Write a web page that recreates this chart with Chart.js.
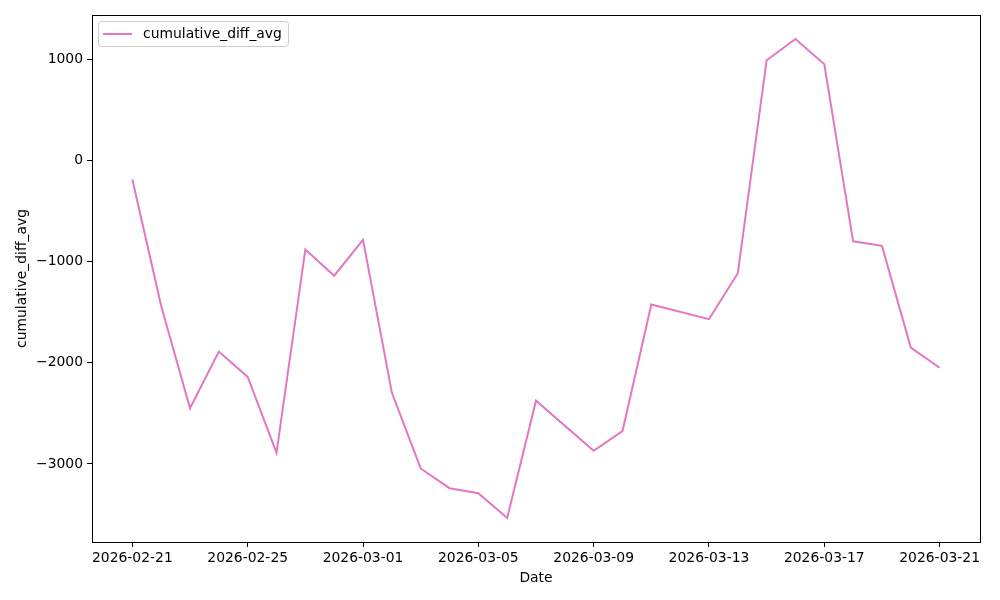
<!DOCTYPE html>
<html>
<head>
<meta charset="utf-8">
<script src="https://cdn.jsdelivr.net/npm/chart.js@4"></script>
<style>
  html, body { margin: 0; padding: 0; background: #fff; }
  canvas { display: block; }
</style>
</head>
<body>
<canvas id="chart" width="1000" height="600"></canvas>
<script>
// ── Data ─────────────────────────────────────────────────────────────
const DATES = [
  '2026-02-21', '2026-02-22', '2026-02-23', '2026-02-24', '2026-02-25',
  '2026-02-26', '2026-02-27', '2026-02-28', '2026-03-01', '2026-03-02',
  '2026-03-03', '2026-03-04', '2026-03-05', '2026-03-06', '2026-03-07',
  '2026-03-09', '2026-03-10', '2026-03-11', '2026-03-13', '2026-03-14',
  '2026-03-15', '2026-03-16', '2026-03-17', '2026-03-18', '2026-03-19',
  '2026-03-20', '2026-03-21'
];
const CUM_DIFF_AVG = [
  -190, -1440, -2450, -1890, -2140,
  -2890, -880, -1140, -785, -2295,
  -3045, -3240, -3290, -3535, -2375,
  -2870, -2675, -1425, -1570, -1115,
  990, 1200, 950, -800, -845,
  -1850, -2050
];
const X_TICKS = ['2026-02-21', '2026-02-25', '2026-03-01', '2026-03-05',
                 '2026-03-09', '2026-03-13', '2026-03-17', '2026-03-21'];
const Y_TICKS = [-3000, -2000, -1000, 0, 1000];

const SERIES_LABEL = 'cumulative_diff_avg';
const LINE_COLOR = '#e377c2';
const FONT = 'DejaVu Sans';
const FONT_SIZE = 13.9;

// days since first date, so the x scale stays linear like a date axis
const DAY = 86400000;
const base = Date.parse(DATES[0] + 'T00:00:00Z');
const toDay = d => (Date.parse(d + 'T00:00:00Z') - base) / DAY;
const fromDay = n => new Date(base + n * DAY).toISOString().slice(0, 10);

const points = DATES.map((d, i) => ({ x: toDay(d), y: CUM_DIFF_AVG[i] }));

// matplotlib-like 5% margins
const xs = points.map(p => p.x), ys = points.map(p => p.y);
const xPad = (Math.max(...xs) - Math.min(...xs)) * 0.05;
const yPad = (Math.max(...ys) - Math.min(...ys)) * 0.05;

// ── Plugins ──────────────────────────────────────────────────────────
const frame = {
  id: 'frame',
  afterDatasetsDraw(chart) {
    const { ctx, chartArea: a } = chart;
    ctx.save();
    ctx.strokeStyle = '#000';
    ctx.lineWidth = 1;
    ctx.strokeRect(a.left + 0.5, a.top + 0.5, a.right - a.left, a.bottom - a.top);
    ctx.restore();
  }
};

const boxLegend = {
  id: 'boxLegend',
  afterDraw(chart) {
    const { ctx, chartArea: a } = chart;
    const ds = chart.data.datasets[0];
    const x = a.left + 6, y = a.top + 6, w = 190, h = 25, r = 3;
    ctx.save();
    ctx.beginPath();
    ctx.roundRect(x + 0.5, y + 0.5, w, h, r);
    ctx.fillStyle = 'rgba(255,255,255,0.8)';
    ctx.fill();
    ctx.strokeStyle = '#cccccc';
    ctx.lineWidth = 1;
    ctx.stroke();

    ctx.beginPath();
    ctx.moveTo(x + 5, y + h / 2 + 0.5);
    ctx.lineTo(x + 34, y + h / 2 + 0.5);
    ctx.strokeStyle = ds.borderColor;
    ctx.lineWidth = 2;
    ctx.stroke();

    ctx.fillStyle = '#000';
    ctx.font = `${FONT_SIZE}px "${FONT}"`;
    ctx.textBaseline = 'middle';
    ctx.fillText(ds.label, x + 45, y + h / 2 + 1);
    ctx.restore();
  }
};

// ── Chart ────────────────────────────────────────────────────────────
const tickFont = { family: FONT, size: FONT_SIZE };
const minus = v => (v < 0 ? '\u2212' + Math.abs(v) : String(v));

new Chart(document.getElementById('chart').getContext('2d'), {
  type: 'line',
  data: {
    datasets: [{
      label: SERIES_LABEL,
      data: points,
      borderColor: LINE_COLOR,
      backgroundColor: LINE_COLOR,
      borderWidth: 2,
      pointRadius: 0,
      tension: 0,
      fill: false
    }]
  },
  options: {
    responsive: false,
    animation: false,
    layout: { padding: { left: 0, top: 15, right: 20, bottom: 0 } },
    plugins: {
      legend: { display: false },
      tooltip: { enabled: false }
    },
    scales: {
      x: {
        type: 'linear',
        min: Math.min(...xs) - xPad,
        max: Math.max(...xs) + xPad,
        afterBuildTicks: s => { s.ticks = X_TICKS.map(d => ({ value: toDay(d) })); },
        afterFit: s => { s.height = 58; },
        border: { display: false },
        grid: { drawOnChartArea: false, drawTicks: true, tickLength: 5, tickColor: '#000', tickWidth: 1 },
        ticks: {
          color: '#000', font: tickFont, padding: 3,
          maxRotation: 0, autoSkip: false,
          callback: v => fromDay(v)
        },
        title: {
          display: true, text: 'Date', color: '#000', font: tickFont,
          padding: { top: 0, bottom: 13 }
        }
      },
      y: {
        type: 'linear',
        min: Math.min(...ys) - yPad,
        max: Math.max(...ys) + yPad,
        afterBuildTicks: s => { s.ticks = Y_TICKS.map(v => ({ value: v })); },
        afterFit: s => { s.width = 92; },
        border: { display: false },
        grid: { drawOnChartArea: false, drawTicks: true, tickLength: 5, tickColor: '#000', tickWidth: 1 },
        ticks: {
          color: '#000', font: tickFont, padding: 4,
          callback: v => minus(v)
        },
        title: {
          display: true, text: 'cumulative_diff_avg', color: '#000', font: tickFont,
          padding: { top: 14, bottom: 0 }
        }
      }
    }
  },
  plugins: [frame, boxLegend]
});
</script>
</body>
</html>
